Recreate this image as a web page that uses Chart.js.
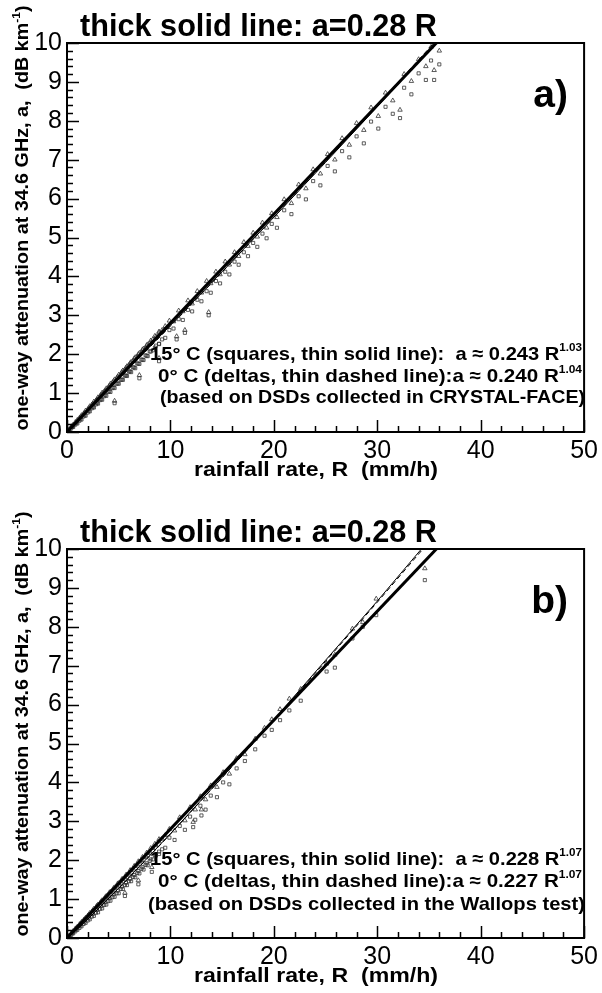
<!DOCTYPE html>
<html>
<head>
<meta charset="utf-8">
<script src="https://cdn.jsdelivr.net/npm/chart.js@4.4.1/dist/chart.umd.min.js"></script>
<style>
html, body { margin: 0; padding: 0; background: #fff; width: 602px; height: 993px; overflow: hidden; }
canvas { position: absolute; left: 0; }
#chartA { top: 0; }
#chartB { top: 506px; }
</style>
</head>
<body>
<canvas id="chartA" width="602" height="496"></canvas>
<canvas id="chartB" width="602" height="496"></canvas>
<script>
// tick labels
const xMajorTicks = [0, 10, 20, 30, 40, 50];
const yMajorTicks = [0, 1, 2, 3, 4, 5, 6, 7, 8, 9, 10];

// panel a) CRYSTAL-FACE: rain rate, 15 C (squares), 0 C (deltas)
const aR = [0.2,0.4,0.6,0.8,1.0,1.2,1.4,1.6,1.8,2.0,
  2.2,2.4,2.6,2.8,3.0,3.2,3.4,3.6,3.8,4.0,
  4.2,4.4,4.6,4.8,5.0,5.2,5.4,5.6,5.8,6.0,
  6.2,6.4,6.6,6.8,7.0,7.2,7.4,7.6,7.8,8.0,
  8.3,8.6,8.9,9.2,9.5,
  0.5,0.9,1.3,1.7,2.1,2.5,2.9,3.3,3.7,4.1,
  4.5,4.9,5.3,5.7,6.1,6.5,6.9,7.3,7.7,8.1,
  8.5,8.9,
  9.9,10.3,10.8,11.2,11.7,12.1,12.6,13.0,13.5,13.9,
  14.4,14.8,15.3,15.7,16.2,16.6,17.1,17.5,18.0,18.4,
  18.9,19.3,19.8,20.3,21.0,21.7,22.4,23.1,23.8,24.5,
  25.2,25.9,26.6,27.3,28.0,28.7,29.4,30.1,30.8,31.5,
  32.2,32.6,33.3,34.0,34.7,35.2,35.5,36.0,
  4.6,7.0,8.9,10.6,11.4,13.7];
const aSquares = [0.04,0.09,0.13,0.19,0.22,0.29,0.32,0.40,0.42,0.50,
  0.53,0.61,0.63,0.71,0.73,0.82,0.83,0.92,0.93,1.03,
  1.03,1.13,1.13,1.24,1.24,1.34,1.34,1.45,1.44,1.55,
  1.54,1.66,1.64,1.76,1.75,1.86,1.85,1.97,1.95,2.07,
  2.10,2.22,2.26,2.38,2.42,
  0.13,0.23,0.33,0.43,0.54,0.64,0.74,0.84,0.95,1.05,
  1.15,1.25,1.35,1.45,1.56,1.66,1.76,1.86,1.96,2.07,
  2.17,2.27,
  2.62,2.66,2.90,2.88,3.14,3.10,3.40,3.36,3.62,3.58,
  3.88,3.82,4.12,4.05,4.38,4.30,4.62,4.52,4.86,4.76,
  5.10,4.98,5.35,5.25,5.70,5.60,6.06,5.98,6.45,6.34,
  6.84,6.70,7.22,7.06,7.60,7.42,7.98,7.80,8.36,8.18,
  8.07,8.85,8.68,9.22,9.05,9.55,9.05,9.45,
  0.74,1.38,1.82,2.38,2.55,3.00];
const aDeltas = [0.07,0.13,0.19,0.25,0.31,0.36,0.43,0.47,0.55,0.58,
  0.66,0.70,0.78,0.81,0.89,0.92,1.01,1.04,1.12,1.15,
  1.24,1.27,1.35,1.38,1.47,1.49,1.58,1.60,1.69,1.72,
  1.80,1.83,1.92,1.94,2.03,2.05,2.14,2.16,2.25,2.28,
  2.38,2.45,2.55,2.62,2.72,
  0.15,0.26,0.38,0.50,0.61,0.73,0.84,0.96,1.07,1.19,
  1.31,1.42,1.54,1.65,1.77,1.89,2.00,2.12,2.23,2.35,
  2.47,2.58,
  2.86,2.84,3.12,3.10,3.38,3.30,3.62,3.58,3.88,3.82,
  4.12,4.05,4.38,4.30,4.62,4.52,4.88,4.78,5.12,5.02,
  5.38,5.25,5.62,5.52,5.98,5.88,6.36,6.26,6.75,6.64,
  7.14,7.00,7.55,7.38,7.94,7.76,8.34,8.12,8.72,8.52,
  8.28,9.20,9.02,9.58,9.40,9.90,9.30,9.80,
  0.80,1.46,1.90,2.46,2.62,3.08];

// panel b) Wallops test
const bR = [0.2,0.4,0.6,0.8,1.0,1.2,1.4,1.6,1.8,2.0,
  2.2,2.4,2.6,2.8,3.0,3.2,3.4,3.6,3.8,4.0,
  4.2,4.4,4.6,4.8,5.0,5.2,5.4,5.6,5.8,6.0,
  6.2,6.4,6.6,6.8,7.0,7.2,7.4,7.6,7.8,8.0,
  8.3,8.6,8.9,9.2,9.5,
  0.5,0.9,1.3,1.7,2.1,2.5,2.9,3.3,3.7,4.1,
  4.5,4.9,5.3,5.7,6.1,6.5,6.9,7.3,7.7,8.1,
  8.5,8.9,
  9.9,10.4,10.9,11.4,11.9,12.4,12.9,13.4,13.9,14.5,
  15.1,15.7,16.4,
  17.2,18.2,19.1,19.8,20.6,21.5,22.6,25.1,25.9,27.6,
  28.6,29.9,34.6,
  5.6,6.9,8.2,12.2,13.0];
const bSquares = [0.04,0.08,0.12,0.17,0.21,0.26,0.30,0.36,0.39,0.45,
  0.48,0.55,0.57,0.65,0.66,0.75,0.76,0.85,0.86,0.95,
  0.96,1.05,1.06,1.15,1.15,1.26,1.26,1.36,1.36,1.46,
  1.46,1.57,1.56,1.67,1.66,1.78,1.76,1.88,1.87,1.98,
  2.02,2.12,2.16,2.28,2.32,
  0.12,0.22,0.32,0.42,0.52,0.62,0.72,0.82,0.92,1.02,
  1.12,1.22,1.32,1.42,1.52,1.62,1.72,1.82,1.92,2.02,
  2.12,2.22,
  2.58,2.52,2.88,2.78,3.12,3.04,3.40,3.30,3.66,3.62,
  4.00,3.95,4.36,
  4.55,4.85,5.20,5.35,5.60,5.85,6.10,6.85,6.95,7.70,
  8.00,8.30,9.20,
  1.08,1.38,1.70,2.85,3.15];
const bDeltas = [0.06,0.12,0.18,0.24,0.29,0.35,0.41,0.46,0.52,0.57,
  0.64,0.68,0.75,0.79,0.86,0.90,0.97,1.01,1.08,1.12,
  1.19,1.23,1.30,1.34,1.41,1.45,1.52,1.56,1.63,1.67,
  1.74,1.78,1.85,1.89,1.96,2.00,2.07,2.11,2.18,2.22,
  2.31,2.38,2.48,2.55,2.64,
  0.14,0.26,0.37,0.48,0.60,0.71,0.83,0.94,1.05,1.17,
  1.28,1.40,1.51,1.62,1.74,1.85,1.97,2.08,2.19,2.31,
  2.42,2.54,
  2.80,2.76,3.10,3.02,3.36,3.30,3.64,3.56,3.92,3.88,
  4.26,4.22,4.62,
  4.72,5.12,5.40,5.62,5.88,6.15,6.40,7.05,7.28,7.95,
  8.12,8.72,9.50,
  1.16,1.48,1.82,2.98,3.30];

// fitted curves
const fitR = [0, 1, 2, 5, 10, 15, 20, 25, 30, 35, 40];
const aFit15 = [0, 0.27, 0.55, 1.37, 2.74, 4.12, 5.52, 6.93, 8.36, 9.80, 11.24];
const aFit0 = [0, 0.27, 0.54, 1.36, 2.72, 4.11, 5.52, 6.95, 8.40, 9.86, 11.33];
const bFit15 = [0, 0.23, 0.48, 1.28, 2.68, 4.13, 5.61, 7.14, 8.66, 10.23, 11.81];
const bFit0 = [0, 0.23, 0.48, 1.27, 2.67, 4.12, 5.59, 7.11, 8.63, 10.18, 11.76];
const thickR = [0, 50];
const thickA = [0, 14];

const FAMILY = '"Liberation Sans", Arial, Helvetica, sans-serif';

function pts(xs, ys) {
    return xs.map((x, i) => ({ x: x, y: ys[i] }));
}

// draws text pieces (with superscripts), stretched to a given width
function rich(ctx, parts, x, y, width, size, align) {
    const fN = `bold ${size}px ${FAMILY}`;
    const fS = `bold ${Math.round(size * 0.6)}px ${FAMILY}`;
    const widths = [];
    let nat = 0;
    parts.forEach(p => {
        ctx.font = p.sup ? fS : fN;
        const w = ctx.measureText(p.t).width;
        widths.push(w);
        nat += w;
    });
    const s = width ? width / nat : 1;
    const total = nat * s;
    const x0 = align === 'center' ? x - total / 2 : align === 'right' ? x - total : x;
    ctx.save();
    ctx.translate(x0, y);
    ctx.scale(s, 1);
    ctx.textAlign = 'left';
    ctx.textBaseline = 'alphabetic';
    let cx = 0;
    parts.forEach((p, i) => {
        ctx.font = p.sup ? fS : fN;
        ctx.fillText(p.t, cx, p.sup ? -size * 0.45 : 0);
        cx += widths[i];
    });
    ctx.restore();
}

function isMajor(v, list) {
    return list.some(m => Math.abs(m - v) < 1e-6);
}

const panelText = {
    id: 'panelText',
    afterDraw(chart, args, o) {
        const ctx = chart.ctx;
        const area = chart.chartArea;
        const xs = chart.scales.x, ys = chart.scales.y;
        ctx.save();
        // inward ticks (major + minor)
        ctx.strokeStyle = '#000';
        ctx.lineWidth = 1.5;
        ctx.beginPath();
        xs.ticks.forEach(t => {
            const px = Math.round(xs.getPixelForValue(t.value)) + 0.5;
            const len = isMajor(t.value, xMajorTicks) ? 12 : 6;
            ctx.moveTo(px, area.bottom);
            ctx.lineTo(px, area.bottom - len);
        });
        ys.ticks.forEach(t => {
            const py = Math.round(ys.getPixelForValue(t.value)) + 0.5;
            const len = isMajor(t.value, yMajorTicks) ? 12 : 6;
            ctx.moveTo(area.left, py);
            ctx.lineTo(area.left + len, py);
        });
        ctx.stroke();
        // frame
        ctx.lineWidth = 2;
        ctx.strokeRect(area.left, area.top, area.right - area.left, area.bottom - area.top);

        ctx.fillStyle = '#000';
        rich(ctx, [{ t: 'thick solid line: a=0.28 R' }], 80, 36, 357, 32, 'left');
        rich(ctx, [{ t: o.label }], 568, 107, null, 39, 'right');
        o.lines.forEach(l => rich(ctx, l.parts, l.x, l.y, l.w, 19, 'left'));
        rich(ctx, [{ t: 'rainfall rate, R  (mm/h)' }], 316, 476, 244, 20, 'center');

        ctx.translate(28, 218);
        ctx.rotate(-Math.PI / 2);
        rich(ctx, [{ t: 'one-way attenuation at 34.6 GHz, a,  (dB km' }, { t: '-1', sup: true }, { t: ')' }],
            0, 0, 425, 18, 'center');
        ctx.restore();
    }
};

function makePanel(id, sq, dl, R, fit15, fit0, label, lines) {
    return new Chart(document.getElementById(id), {
        type: 'scatter',
        data: {
            datasets: [
                { data: pts(thickR, thickA), showLine: true, borderColor: '#000', borderWidth: 3, pointRadius: 0, order: 0 },
                { data: pts(fitR, fit15), showLine: true, borderColor: '#000', borderWidth: 1, pointRadius: 0, order: 0 },
                { data: pts(fitR, fit0), showLine: true, borderColor: '#000', borderWidth: 1, borderDash: [5, 3], pointRadius: 0, order: 0 },
                { data: pts(R, sq), pointStyle: 'rect', pointRadius: 2.2, borderWidth: 0.8, borderColor: '#333', backgroundColor: 'rgba(255,255,255,0)', order: 2 },
                { data: pts(R, dl), pointStyle: 'triangle', pointRadius: 2.6, borderWidth: 0.8, borderColor: '#333', backgroundColor: 'rgba(255,255,255,0)', order: 1 }
            ]
        },
        options: {
            responsive: false,
            animation: false,
            layout: { padding: { top: 43, right: 13, left: 0, bottom: 0 } },
            plugins: {
                legend: { display: false },
                tooltip: { enabled: false },
                panelText: { label: label, lines: lines }
            },
            scales: {
                x: {
                    type: 'linear', min: 0, max: 50,
                    grid: { display: false, drawTicks: false },
                    border: { display: false },
                    ticks: {
                        stepSize: 2, autoSkip: false, maxRotation: 0, minRotation: 0, padding: 4,
                        color: '#000', font: { family: FAMILY, size: 25 },
                        callback: v => isMajor(v, xMajorTicks) ? String(Math.round(v)) : ''
                    },
                    afterFit: s => { s.height = 64; }
                },
                y: {
                    type: 'linear', min: 0, max: 10,
                    grid: { display: false, drawTicks: false },
                    border: { display: false },
                    ticks: {
                        stepSize: 0.2, autoSkip: false, padding: 5,
                        color: '#000', font: { family: FAMILY, size: 25 },
                        callback: v => isMajor(v, yMajorTicks) ? String(Math.round(v)) : ''
                    },
                    afterFit: s => { s.width = 67; }
                }
            }
        },
        plugins: [panelText]
    });
}

makePanel('chartA', aSquares, aDeltas, aR, aFit15, aFit0, 'a)', [
    { parts: [{ t: '15° C (squares, thin solid line):  a ≈ 0.243 R' }, { t: '1.03', sup: true }], x: 150, y: 360, w: 432 },
    { parts: [{ t: '0° C (deltas, thin dashed line):a ≈ 0.240 R' }, { t: '1.04', sup: true }], x: 158, y: 382, w: 424 },
    { parts: [{ t: '(based on DSDs collected in CRYSTAL-FACE)' }], x: 160, y: 403, w: 425 }
]);

makePanel('chartB', bSquares, bDeltas, bR, bFit15, bFit0, 'b)', [
    { parts: [{ t: '15° C (squares, thin solid line):  a ≈ 0.228 R' }, { t: '1.07', sup: true }], x: 150, y: 359, w: 432 },
    { parts: [{ t: '0° C (deltas, thin dashed line):a ≈ 0.227 R' }, { t: '1.07', sup: true }], x: 158, y: 381, w: 424 },
    { parts: [{ t: '(based on DSDs collected in the Wallops test)' }], x: 148, y: 404, w: 437 }
]);
</script>
</body>
</html>
